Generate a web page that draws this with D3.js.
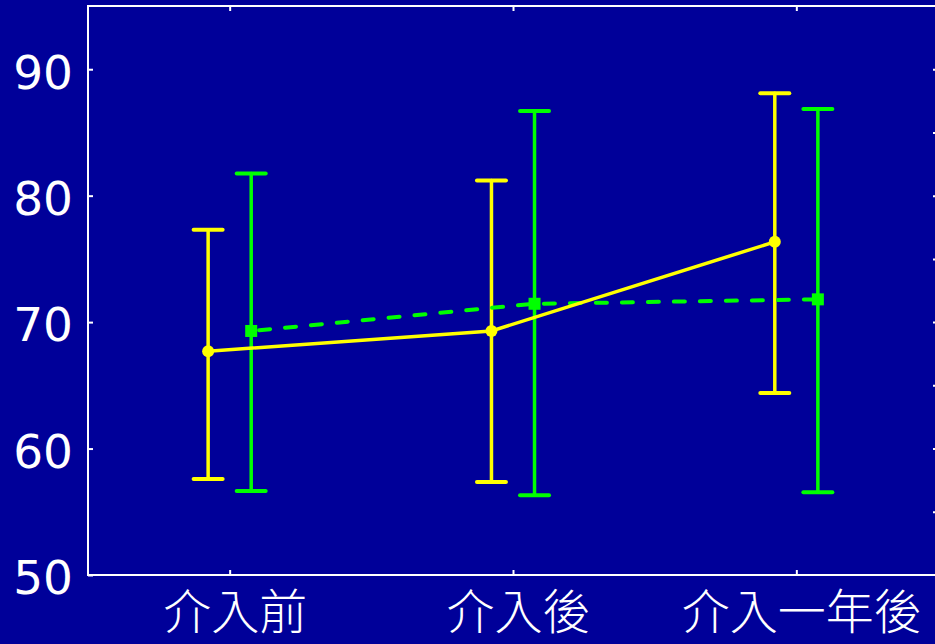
<!DOCTYPE html>
<html>
<head>
<meta charset="utf-8">
<script src="https://cdn.jsdelivr.net/npm/d3@7/dist/d3.min.js"></script>
<style>
  html, body { margin: 0; padding: 0; background: #000099; overflow: hidden; }
  svg { display: block; }
</style>
</head>
<body>
<svg id="chart" width="935" height="644"></svg>
<script>
// Time points
const categories = ["介入前", "介入後", "介入一年後"];

// Group A (yellow, solid line, circles)
const meanA = [67.7, 69.3, 76.35];
const lowA  = [57.6, 57.35, 64.4];
const highA = [77.3, 81.2, 88.1];

// Group B (green, dashed line, squares)
const meanB = [69.3, 71.45, 71.8];
const lowB  = [56.65, 56.3, 56.55];
const highB = [81.75, 86.7, 86.85];

// Axis ticks
const yTicksLabelled = [50, 60, 70, 80, 90];
const yTicksMinor = [55, 60, 65, 70, 75, 80, 85, 90];

const svg = d3.select("#chart");
const W = 935, H = 644;
const plot = { left: 88, right: 938, top: 6, bottom: 575 };

svg.append("rect").attr("width", W).attr("height", H).attr("fill", "#000099");

const x = d3.scalePoint().domain(categories).range([plot.left, plot.right]).padding(0.5);
const y = d3.scaleLinear().domain([50, 95]).range([plot.bottom, plot.top]);
const step = x.step();
const offA = -0.076 * step, offB = 0.076 * step;

const white = "#ffffff";

// Frame
svg.append("rect")
  .attr("x", plot.left).attr("y", plot.top)
  .attr("width", plot.right - plot.left).attr("height", plot.bottom - plot.top)
  .attr("fill", "none").attr("stroke", white).attr("stroke-width", 2);

// Left axis: ticks and labels
const leftAxis = d3.axisLeft(y).tickValues(yTicksLabelled).tickSize(-5).tickPadding(16);
const gl = svg.append("g").attr("transform", `translate(${plot.left},0)`).call(leftAxis);
gl.select(".domain").remove();
gl.selectAll(".tick line").attr("stroke", white).attr("stroke-width", 2);
gl.selectAll(".tick text")
  .attr("fill", white)
  .attr("font-family", "'DejaVu Sans', Verdana, sans-serif")
  .attr("font-size", 47)
  .attr("x", -15)
  .attr("dy", "0.4em");

// Right axis: inward ticks only
const rightAxis = d3.axisRight(y).tickValues(yTicksMinor).tickSize(-5).tickFormat("");
const gr = svg.append("g").attr("transform", `translate(${plot.right},0)`).call(rightAxis);
gr.select(".domain").remove();
gr.selectAll(".tick line").attr("stroke", white).attr("stroke-width", 2);

// Top axis: inward ticks
const topAxis = d3.axisTop(x).tickSize(-5).tickFormat("");
const gt = svg.append("g").attr("transform", `translate(0,${plot.top})`).call(topAxis);
gt.select(".domain").remove();
gt.selectAll(".tick line").attr("stroke", white).attr("stroke-width", 2);

// Bottom axis: inward ticks and category labels
const bottomAxis = d3.axisBottom(x).tickSize(-5).tickPadding(0);
const gb = svg.append("g").attr("transform", `translate(0,${plot.bottom})`).call(bottomAxis);
gb.select(".domain").remove();
gb.selectAll(".tick line").attr("stroke", white).attr("stroke-width", 2);
gb.selectAll(".tick text")
  .attr("fill", white)
  .attr("font-family", "'Noto Sans CJK TC', 'Noto Sans CJK JP', sans-serif")
  .attr("font-weight", 300)
  .attr("font-size", 48)
  .attr("x", 5)
  .attr("y", 54)
  .attr("dy", 0);

// Error bars
function errorBars(low, high, off, color) {
  const g = svg.append("g").attr("stroke", color).attr("stroke-linecap", "round");
  categories.forEach((c, i) => {
    const cx = x(c) + off;
    g.append("line").attr("x1", cx).attr("x2", cx)
      .attr("y1", y(low[i])).attr("y2", y(high[i])).attr("stroke-width", 3.5);
    [low[i], high[i]].forEach(v => {
      g.append("line").attr("x1", cx - 14.5).attr("x2", cx + 14.5)
        .attr("y1", y(v)).attr("y2", y(v)).attr("stroke-width", 4);
    });
  });
}
errorBars(lowA, highA, offA, "#ffff00");
errorBars(lowB, highB, offB, "#00ff00");

// Mean lines
const lineB = d3.line().x((d, i) => x(categories[i]) + offB).y(d => y(d));
svg.append("path").datum(meanB).attr("d", lineB)
  .attr("fill", "none").attr("stroke", "#00ff00").attr("stroke-width", 4)
  .attr("stroke-dasharray", "11,15").attr("stroke-dashoffset", -8)
  .attr("stroke-linecap", "round");

const lineA = d3.line().x((d, i) => x(categories[i]) + offA).y(d => y(d));
svg.append("path").datum(meanA).attr("d", lineA)
  .attr("fill", "none").attr("stroke", "#ffff00").attr("stroke-width", 3.5);

// Markers
svg.append("g").selectAll("rect").data(meanB).join("rect")
  .attr("x", (d, i) => x(categories[i]) + offB - 6)
  .attr("y", d => y(d) - 6)
  .attr("width", 12).attr("height", 12)
  .attr("fill", "#00ff00");

svg.append("g").selectAll("circle").data(meanA).join("circle")
  .attr("cx", (d, i) => x(categories[i]) + offA)
  .attr("cy", d => y(d))
  .attr("r", 6)
  .attr("fill", "#ffff00");
</script>
</body>
</html>
